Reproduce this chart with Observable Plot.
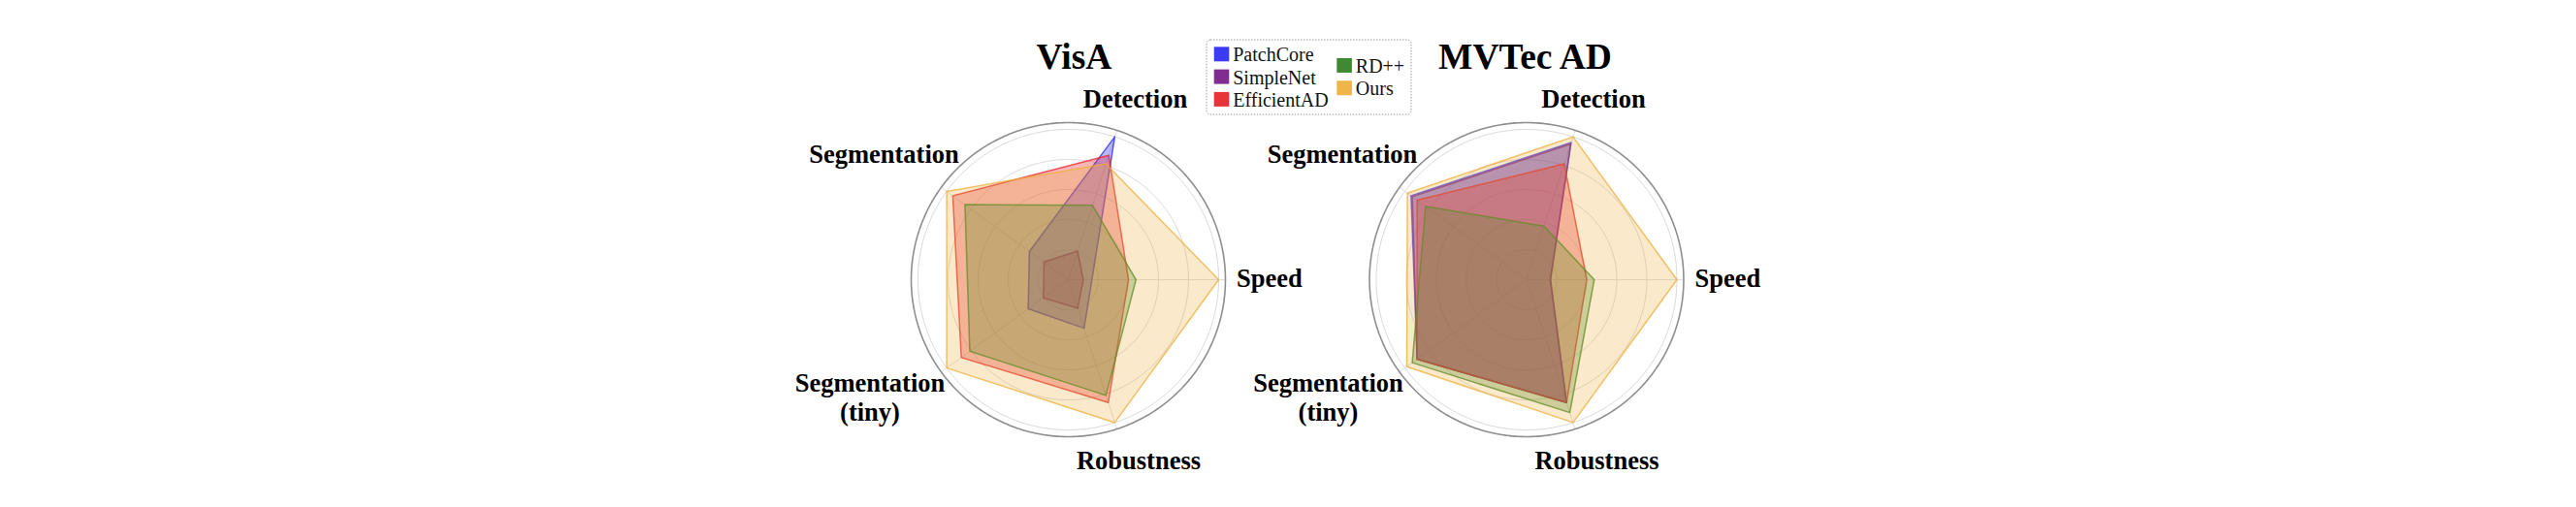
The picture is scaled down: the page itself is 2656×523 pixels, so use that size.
<!DOCTYPE html>
<html>
<head>
<meta charset="utf-8">
<script src="https://cdn.jsdelivr.net/npm/d3@7"></script>
<script src="https://cdn.jsdelivr.net/npm/@observablehq/plot@0.6"></script>
<style>
  html, body { margin: 0; padding: 0; background: #fff; overflow: hidden; }
  #chart svg { display: block; }
</style>
</head>
<body>
<div id="chart"></div>
<script>
// ---------------- data ----------------
const axesLabels = ["Speed", "Detection", "Segmentation", "Segmentation\n(tiny)", "Robustness"];
const methods = ["PatchCore", "SimpleNet", "EfficientAD", "RD++", "Ours"];
const datasets = ["VisA", "MVTec AD"];
const gridLevels = [0.2, 0.4, 0.6, 0.8, 1.0];

// values in the order of axesLabels: Speed, Detection, Segmentation, Segmentation (tiny), Robustness
const visaPatchCore   = [0.157, 1.00, 0.32, 0.33, 0.34];
const visaSimpleNet   = [0.10, 0.20, 0.20, 0.205, 0.20];
const visaEfficientAD = [0.40, 0.87, 0.95, 0.88, 0.86];
const visaRDpp        = [0.45, 0.52, 0.85, 0.81, 0.81];
const visaOurs        = [1.00, 0.81, 1.00, 1.00, 1.00];

const mvtecPatchCore   = [0.157, 0.96, 0.95, 0.90, 0.86];
const mvtecSimpleNet   = [0.16, 0.95, 0.94, 0.90, 0.86];
const mvtecEfficientAD = [0.40, 0.81, 0.90, 0.90, 0.86];
const mvtecRDpp        = [0.45, 0.375, 0.83, 0.94, 0.93];
const mvtecOurs        = [1.00, 1.00, 0.98, 0.985, 1.00];

// ---------------- style / layout ----------------
const colors = ["#2a2af2", "#761a88", "#e62228", "#2f8020", "#eeaf3a"];
const fillOpacities = [0.33, 0.3, 0.33, 0.3, 0.27];
const W = 2656, H = 523;
const PX = 155;             // pixels per unit score
const CX = 1101, CY = 288;  // centre of first panel (px)
const PANEL_STEP = 472.5;   // distance between panel centres (px)
const OUTER = 1.045;
const LABEL_R = 1.1;
const toX = px => (px - CX) / PX;
const toY = py => (CY - py) / PX;
const angleOf = i => i * 2 * Math.PI / axesLabels.length;
const serif = "'Liberation Serif', 'Times New Roman', Times, serif";

const labelLayout = [
  {textAnchor: "start",  dx: 3,     dy: 7},
  {textAnchor: "middle", dx: 16.3,  dy: -14.9},
  {textAnchor: "middle", dx: -52.1, dy: -20.3},
  {textAnchor: "middle", dx: -66.6, dy: 44.8},
  {textAnchor: "middle", dx: 19.8,  dy: 32.9}
];
const titleDx = [6, -1.5];

const panels = datasets.map((name, k) => ({name, ox: k * PANEL_STEP / PX}));
const seriesByPanel = [
  [visaPatchCore, visaSimpleNet, visaEfficientAD, visaRDpp, visaOurs],
  [mvtecPatchCore, mvtecSimpleNet, mvtecEfficientAD, mvtecRDpp, mvtecOurs]
];

// polygon points
const pts = [];
panels.forEach((p, k) => {
  methods.forEach((m, j) => {
    seriesByPanel[k][j].forEach((v, i) => {
      const a = angleOf(i);
      pts.push({dataset: p.name, method: m, axis: axesLabels[i], value: v,
                x: p.ox + v * Math.cos(a), y: v * Math.sin(a)});
    });
  });
});

// grid rings
const ringPts = [];
panels.forEach(p => {
  [...gridLevels, OUTER].forEach(r => {
    for (let deg = 0; deg <= 360; deg += 1) {
      const a = deg * Math.PI / 180;
      ringPts.push({key: p.name + "-" + r, r, x: p.ox + r * Math.cos(a), y: r * Math.sin(a)});
    }
  });
});

// spokes
const spokes = [];
panels.forEach(p => axesLabels.forEach((lab, i) => {
  const a = angleOf(i);
  spokes.push({x1: p.ox, y1: 0, x2: p.ox + OUTER * Math.cos(a), y2: OUTER * Math.sin(a)});
}));

// axis labels
const labelRows = [];
panels.forEach(p => axesLabels.forEach((lab, i) => {
  const a = angleOf(i);
  labelRows.push({text: lab, i, x: p.ox + LABEL_R * Math.cos(a), y: LABEL_R * Math.sin(a)});
}));

const marks = [];
marks.push(Plot.line(ringPts.filter(d => d.r !== OUTER), {x: "x", y: "y", z: "key", stroke: "#dadada", strokeWidth: 1}));
marks.push(Plot.link(spokes, {x1: "x1", y1: "y1", x2: "x2", y2: "y2", stroke: "#dedede", strokeWidth: 1}));
methods.forEach((m, j) => {
  marks.push(Plot.line(pts.filter(d => d.method === m), {
    x: "x", y: "y", z: "dataset", curve: "linear-closed",
    fill: colors[j], fillOpacity: fillOpacities[j], stroke: colors[j], strokeOpacity: 0.75, strokeWidth: 1.5
  }));
});
marks.push(Plot.line(ringPts.filter(d => d.r === OUTER), {x: "x", y: "y", z: "key", stroke: "#8e8e8e", strokeWidth: 1.6}));

labelLayout.forEach((L, i) => {
  marks.push(Plot.text(labelRows.filter(d => d.i === i), {
    x: "x", y: "y", text: "text", textAnchor: L.textAnchor, lineAnchor: "bottom",
    dx: L.dx, dy: L.dy, lineHeight: 1.132,
    fontFamily: serif, fontSize: 26.5, fontWeight: "bold", fill: "#000"
  }));
});

// titles
panels.forEach((p, k) => {
  marks.push(Plot.text([p], {
    x: d => d.ox, y: toY(70), text: "name", dx: titleDx[k], textAnchor: "middle", lineAnchor: "bottom",
    fontFamily: serif, fontSize: 37.5, fontWeight: "bold", fill: "#000"
  }));
});

// legend
const legendBox = {x1: 1244, x2: 1455, y1: 41, y2: 118};
marks.push(Plot.rect([legendBox], {
  x1: d => toX(d.x1), x2: d => toX(d.x2), y1: d => toY(d.y1), y2: d => toY(d.y2),
  fill: "#fff", fillOpacity: 0.8, stroke: "#9a9a9a", strokeWidth: 1, strokeDasharray: "1.5,1.5", rx: 4
}));
const legendItems = methods.map((m, j) => {
  const col = j < 3 ? 0 : 1;
  const row = j < 3 ? j : (j - 3) + 0.5;
  const left = [1251.7, 1378.3][col];
  const cyPx = 55.8 + row * 23.3;
  return {method: m, color: colors[j], left, cyPx};
});
marks.push(Plot.rect(legendItems, {
  x1: d => toX(d.left), x2: d => toX(d.left + 15.6),
  y1: d => toY(d.cyPx - 7.5), y2: d => toY(d.cyPx + 7.5),
  fill: "color", fillOpacity: 0.92
}));
marks.push(Plot.text(legendItems, {
  x: d => toX(d.left + 19), y: d => toY(d.cyPx + 7), text: "method",
  textAnchor: "start", lineAnchor: "bottom",
  fontFamily: serif, fontSize: 20, fill: "#111"
}));

const chart = Plot.plot({
  width: W, height: H,
  margin: 0,
  x: {domain: [toX(0), toX(W)], axis: null},
  y: {domain: [toY(H), toY(0)], axis: null},
  color: {type: "identity"},
  style: {background: "#fff", overflow: "visible"},
  marks
});
document.getElementById("chart").appendChild(chart);
</script>
</body>
</html>
